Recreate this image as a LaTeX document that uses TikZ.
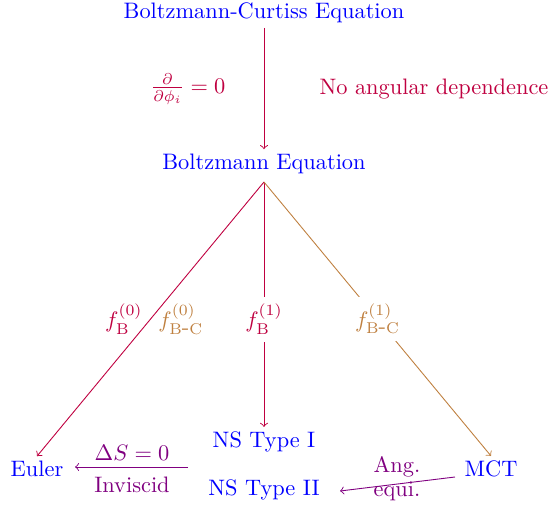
\documentclass[tikz,border=0pt]{standalone}
\usetikzlibrary{arrows}
\begin{document}
\begin{tikzpicture}[x=0.447pt,y=-0.447pt,
  eq/.style={text=blue, inner sep=2pt},
  pline/.style={draw=purple, ->},
  bline/.style={draw=brown, ->},
  vline/.style={draw=violet, ->}]
\useasboundingbox (0,0) rectangle (549,506);
\node[eq] (bc) at (264,13) {Boltzmann-Curtiss Equation};
\node[eq] (be) at (264,164) {Boltzmann Equation};
\node[eq] (eu) at (37,469) {Euler};
\node[eq] (ns1) at (264,442) {NS Type I};
\node[eq] (ns2) at (264,490) {NS Type II};
\node[eq] (mct) at (491,469) {MCT};
\coordinate (top) at (264,182);
\draw[pline] (bc) -- (be);
\node[text=purple] (pd) at (188,89) {$\frac{\partial}{\partial\phi_i}=0$};
\node[text=purple] (na) at (434,89) {No angular dependence};
\draw[pline] (top) -- (eu.north)
  node[pos=0.5,left,text=purple] (fb0) {$f_{\mathrm{B}}^{(0)}$}
  node[pos=0.5,right,text=brown] (fbc0) {$f_{\mathrm{B\mbox{-}C}}^{(0)}$};
\draw[pline] (top) -- (ns1.north)
  node[pos=0.56,fill=white,text=purple] (fb1) {$f_{\mathrm{B}}^{(1)}$};
\draw[bline] (top) -- (mct.north)
  node[pos=0.5,fill=white,text=brown] (fbc1) {$f_{\mathrm{B\mbox{-}C}}^{(1)}$};
\coordinate (ea) at (188,467);
\coordinate (eb) at (75,467);
\draw[vline] (ea) -- (eb);
\node[text=violet] (ds) at (132,453) {$\Delta S=0$};
\node[text=violet] (inv) at (132,485) {Inviscid};
\coordinate (ma) at (455,477);
\coordinate (mb) at (340,491);
\draw[vline] (ma) -- (mb);
\node[text=violet] (ang) at (397,467) {Ang.};
\node[text=violet] (equ) at (397,491) {equi.};
\end{tikzpicture}
\end{document}
